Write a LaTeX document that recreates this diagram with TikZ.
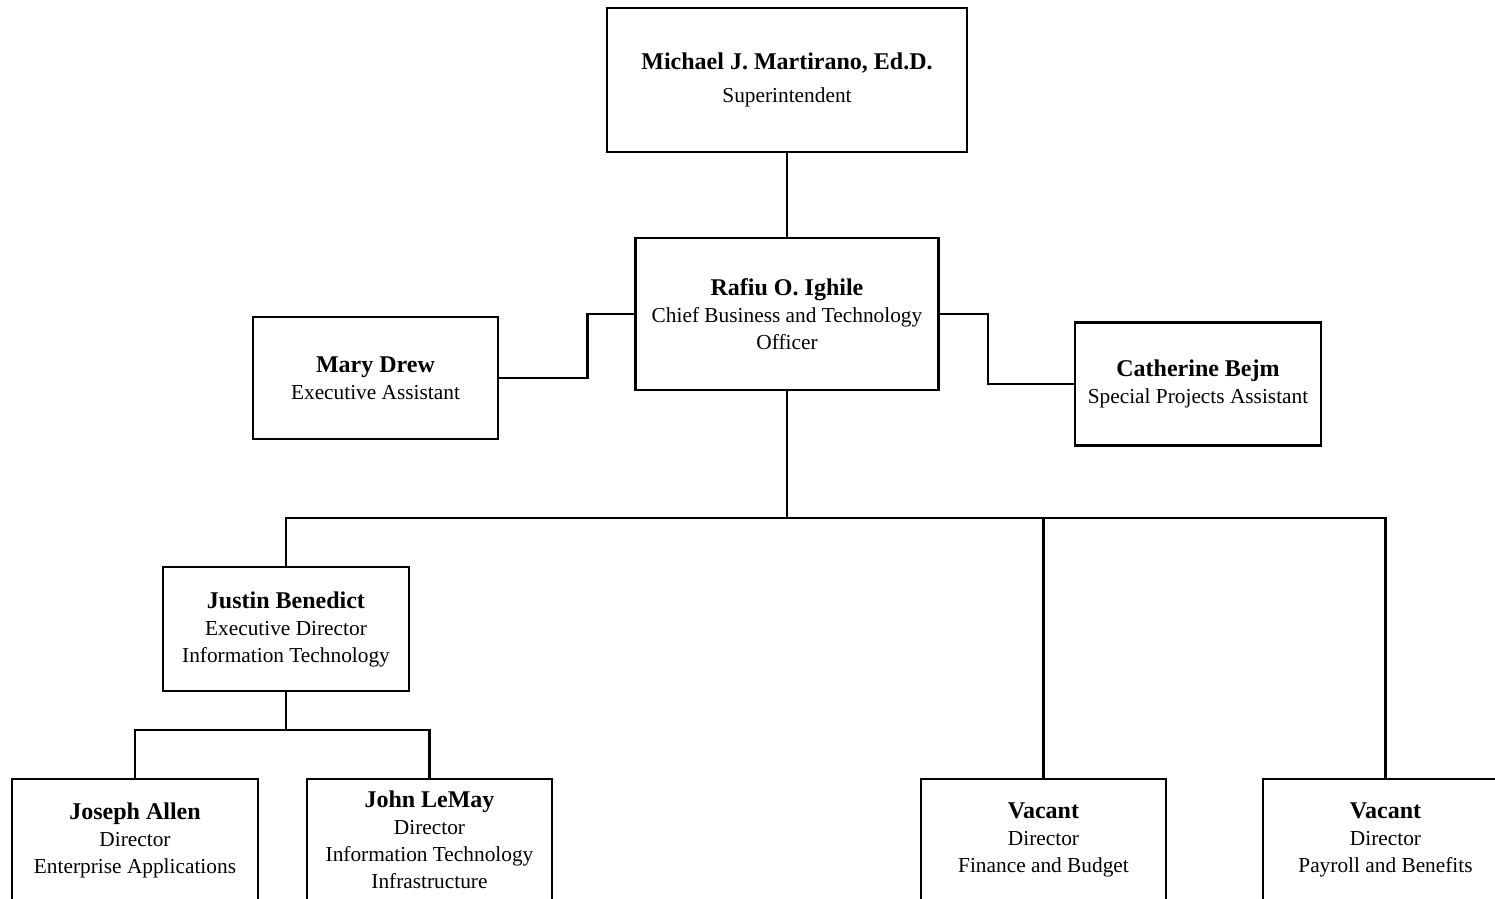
\documentclass[tikz,border=0pt]{standalone}
\usepackage{fontspec}
\setmainfont{Liberation Serif}
\newcommand{\nm}[1]{{\fontsize{12}{13.5}\selectfont\bfseries #1}}
\begin{document}
\begin{tikzpicture}[x=0.5pt,y=-0.5pt,
  box/.style={draw=black,line width=1.3pt,fill=white,inner sep=0pt,align=center,
    font=\fontsize{10.67}{13.5}\selectfont},
  wire/.style={draw=black,line width=1.3pt}]
\useasboundingbox (0,0) rectangle (1495,899);
\clip (0,0) rectangle (1495,899);
\fill[white] (0,0) rectangle (1495,899);
\node[box,minimum width=180pt,minimum height=72pt] (super) at (787,80)
  {\nm{Michael J. Martirano, Ed.D.}\\[3pt]Superintendent};
\node[box,minimum width=151.5pt,minimum height=76pt] (rafiu) at (787,314)
  {\nm{Rafiu O. Ighile}\\Chief Business and Technology\\Officer};
\node[box,minimum width=122.5pt,minimum height=61pt] (mary) at (375.5,378)
  {\nm{Mary Drew}\\Executive Assistant};
\node[box,minimum width=123pt,minimum height=61.5pt] (cath) at (1198,384)
  {\nm{Catherine Bejm}\\Special Projects Assistant};
\node[box,minimum width=123pt,minimum height=62pt] (justin) at (286,629)
  {\nm{Justin Benedict}\\Executive Director\\Information Technology};
\node[box,minimum width=123pt,minimum height=61pt] (joseph) at (135,840)
  {\nm{Joseph Allen}\\Director\\Enterprise Applications};
\node[box,minimum width=122.5pt,minimum height=61pt] (john) at (429.5,840)
  {\nm{John LeMay}\\Director\\Information Technology\\Infrastructure};
\node[box,minimum width=122.5pt,minimum height=61pt] (fin) at (1043.5,840)
  {\nm{Vacant}\\Director\\Finance and Budget};
\node[box,minimum width=122.5pt,minimum height=61pt] (pay) at (1385.5,840)
  {\nm{Vacant}\\Director\\Payroll and Benefits};
\coordinate (bus) at (787,518);
\coordinate (bus2) at (286,730);
\draw[wire] (super) -- (rafiu);
\draw[wire] (rafiu.west) -- ++(-47,0) |- (mary.east);
\draw[wire] (rafiu.east) -- ++(48,0) |- (cath.west);
\draw[wire] (rafiu.south) -- (bus);
\draw[wire] (justin.north) |- (bus) -| (pay.north);
\draw[wire] (fin.north) -- (fin.north |- bus);
\draw[wire] (justin.south) -- (bus2);
\draw[wire] (joseph.north) |- (bus2) -| (john.north);
\end{tikzpicture}
\end{document}
